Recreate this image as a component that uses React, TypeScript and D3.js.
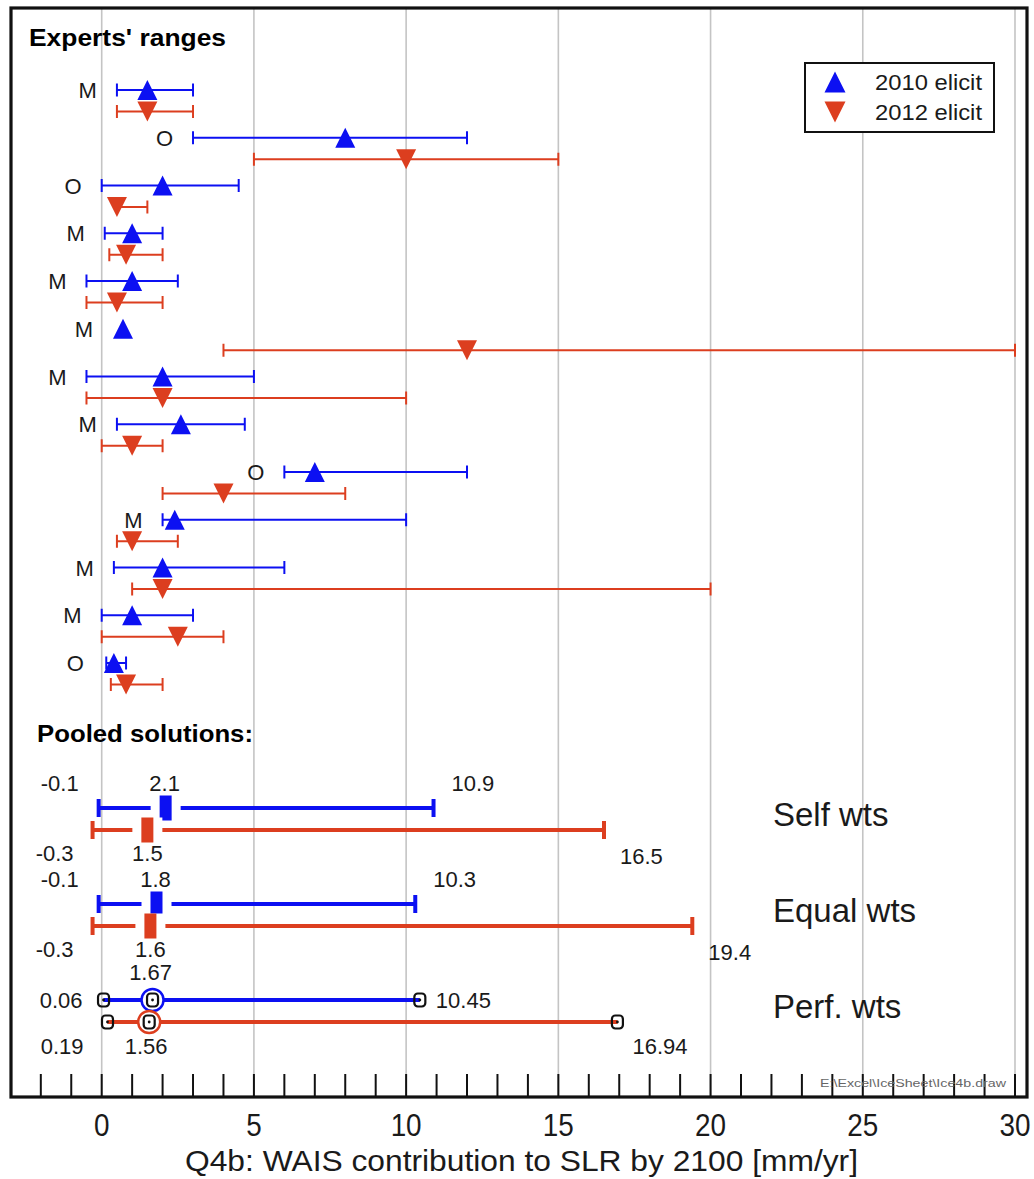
import React from "react";
import * as d3 from "d3";

// ---------------- DATA ----------------
const expertTypes = ["M", "O", "O", "M", "M", "M", "M", "M", "O", "M", "M", "M", "O"];
// 2010 elicitation: [low, median, high]
const elicit2010 = [
  [0.5, 1.5, 3], [3, 8, 12], [0, 2, 4.5], [0.1, 1, 2], [-0.5, 1, 2.5], [0.7, 0.7, 0.7], [-0.5, 2, 5],
  [0.5, 2.6, 4.7], [6, 7, 12], [2, 2.4, 10], [0.4, 2, 6], [0, 1, 3], [0.15, 0.4, 0.8],
];
// 2012 elicitation: [low, median, high]
const elicit2012 = [
  [0.5, 1.5, 3], [5, 10, 15], [0.5, 0.5, 1.5], [0.25, 0.8, 2], [-0.5, 0.5, 2], [4, 12, 30], [-0.5, 2, 10],
  [0, 1, 2], [2, 4, 8], [0.5, 1, 2.5], [1, 2, 20], [0, 2.5, 4], [0.3, 0.8, 2],
];
const poolNames = ["Self wts", "Equal wts", "Perf. wts"];
const pool2010 = [[-0.1, 2.1, 10.9], [-0.1, 1.8, 10.3], [0.06, 1.67, 10.45]];
const pool2012 = [[-0.3, 1.5, 16.5], [-0.3, 1.6, 19.4], [0.19, 1.56, 16.94]];
const poolLabels2010 = [["-0.1", "2.1", "10.9"], ["-0.1", "1.8", "10.3"], ["0.06", "1.67", "10.45"]];
const poolLabels2012 = [["-0.3", "1.5", "16.5"], ["-0.3", "1.6", "19.4"], ["0.19", "1.56", "16.94"]];
const gridTicks = [0, 5, 10, 15, 20, 25, 30];
const minorTicks = d3.range(-2, 31, 1);
const legendLabels = ["2010 elicit", "2012 elicit"];
const xTitle = "Q4b: WAIS contribution to SLR by 2100 [mm/yr]";

// ---------------- STYLE ----------------
const W = 1034, H = 1179;
const BLUE = "#0c10f2";
const RED = "#dc3e1f";
const FONT = "'Liberation Sans', Arial, Helvetica, sans-serif";
const NARROW = "'Liberation Sans Narrow', 'Arial Narrow', 'Liberation Sans', Arial, sans-serif";
const TXT = "#1a1a1a";

const frame = { x0: 11, y0: 8, x1: 1027, y1: 1097 };

export default function App() {
  const x = d3.scaleLinear().domain([0, 30]).range([101.7, 1015]);
  const yExp = d3.scalePoint<number>().domain(d3.range(expertTypes.length)).range([90, 663]);
  const yPool = d3.scalePoint<number>().domain(d3.range(poolNames.length)).range([808, 1000]);
  const redOff = 21.5;
  const poolRedOff = 22;

  const triUp = (cx: number, cy: number, s = 10) =>
    `M${cx},${cy - s}L${cx + s},${cy + s}L${cx - s},${cy + s}Z`;
  const triDown = (cx: number, cy: number, s = 10) =>
    `M${cx},${cy + s}L${cx + s},${cy - s}L${cx - s},${cy - s}Z`;

  const expertRange = (d: number[], cy: number, color: string, up: boolean, key: string) => {
    const [lo, med, hi] = d;
    return (
      <g key={key}>
        {lo < hi && (
          <>
            <line x1={x(lo)} x2={x(hi)} y1={cy} y2={cy} stroke={color} strokeWidth={2} />
            <line x1={x(lo)} x2={x(lo)} y1={cy - 6.5} y2={cy + 6.5} stroke={color} strokeWidth={2} />
            <line x1={x(hi)} x2={x(hi)} y1={cy - 6.5} y2={cy + 6.5} stroke={color} strokeWidth={2} />
          </>
        )}
        <path d={up ? triUp(x(med), cy) : triDown(x(med), cy)} fill={color} />
      </g>
    );
  };

  const poolRange = (d: number[], cy: number, color: string, perf: boolean, key: string) => {
    const [lo, med, hi] = d;
    const marker = (cx: number, k: string) => (
      <g key={k}>
        <rect x={cx - 5.5} y={cy - 6.5} width={11} height={13} rx={3.5} fill="none" stroke="#111" strokeWidth={2.2} />
        <circle cx={cx} cy={cy} r={1.4} fill="#111" />
      </g>
    );
    return (
      <g key={key}>
        <line x1={x(lo)} x2={x(hi)} y1={cy} y2={cy} stroke={color} strokeWidth={4} />
        {!perf && (
          <>
            <line x1={x(lo)} x2={x(lo)} y1={cy - 9} y2={cy + 9} stroke={color} strokeWidth={4} />
            <line x1={x(hi)} x2={x(hi)} y1={cy - 9} y2={cy + 9} stroke={color} strokeWidth={4} />
            <rect x={x(med) - 15} y={cy - 12.5} width={30} height={25} fill="#fff" />
            <rect x={x(med) - 6} y={cy - 12.5} width={12} height={25} fill={color} />
          </>
        )}
        {perf && (
          <>
            <circle cx={x(med)} cy={cy} r={11} fill="#fff" stroke={color} strokeWidth={2.5} />
            {marker(x(lo), "lo")}
            {marker(x(med), "med")}
            {marker(x(hi), "hi")}
          </>
        )}
      </g>
    );
  };

  return (
    <svg width={W} height={H} style={{ position: "absolute", left: 0, top: 0, display: "block", background: "#fff" }}>
      <rect x={0} y={0} width={W} height={H} fill="#fff" />
      {/* grid */}
      {gridTicks.map((t) => (
        <line key={"g" + t} x1={x(t)} x2={x(t)} y1={frame.y0} y2={frame.y1} stroke="#c4c4c4" strokeWidth={1.6} />
      ))}
      {/* minor bottom ticks */}
      {minorTicks.map((t) => (
        <line key={"t" + t} x1={x(t)} x2={x(t)} y1={frame.y1 - 23} y2={frame.y1} stroke="#111" strokeWidth={2} />
      ))}
      {/* frame */}
      <rect x={frame.x0} y={frame.y0} width={frame.x1 - frame.x0} height={frame.y1 - frame.y0}
        fill="none" stroke="#111" strokeWidth={3.2} />

      {/* headings */}
      <text x={29} y={46} fontFamily={FONT} fontWeight="bold" fontSize={24} textLength={197}
        lengthAdjust="spacingAndGlyphs" fill="#000">Experts' ranges</text>
      <text x={37} y={742} fontFamily={FONT} fontWeight="bold" fontSize={24} textLength={216}
        lengthAdjust="spacingAndGlyphs" fill="#000">Pooled solutions:</text>

      {/* experts */}
      {expertTypes.map((lab, i) => {
        const yb = yExp(i)!;
        const b = elicit2010[i];
        const anchor = Math.min(b[0] < b[2] ? x(b[0]) : x(b[1]) - 10, x(b[1]) - 10) - 20;
        return (
          <g key={"e" + i}>
            {expertRange(elicit2012[i], yb + redOff, RED, false, "r")}
            {expertRange(b, yb, BLUE, true, "b")}
            <text x={anchor} y={yb + 8} textAnchor="end" fontFamily={FONT} fontSize={22} fill={TXT}>{lab}</text>
          </g>
        );
      })}

      {/* pooled */}
      {poolNames.map((name, i) => {
        const yb = yPool(i)!;
        const yr = yb + poolRedOff;
        const perf = i === 2;
        const b = pool2010[i], r = pool2012[i];
        const lb = poolLabels2010[i], lr = poolLabels2012[i];
        const fs = 22;
        return (
          <g key={"p" + i}>
            {poolRange(b, yb, BLUE, perf, "b")}
            {poolRange(r, yr, RED, perf, "r")}
            {!perf ? (
              <g fontFamily={FONT} fontSize={fs} fill={TXT}>
                <text x={x(b[0]) - 20} y={yb - 17} textAnchor="end">{lb[0]}</text>
                <text x={x(b[1]) - 1} y={yb - 17} textAnchor="middle">{lb[1]}</text>
                <text x={x(b[2]) + 18} y={yb - 17}>{lb[2]}</text>
                <text x={x(r[0]) - 19} y={yr + 31} textAnchor="end">{lr[0]}</text>
                <text x={x(r[1])} y={yr + 31} textAnchor="middle">{lr[1]}</text>
                <text x={x(r[2]) + 16} y={yr + 34}>{lr[2]}</text>
              </g>
            ) : (
              <g fontFamily={FONT} fontSize={fs} fill={TXT}>
                <text x={x(b[0]) - 21} y={yb + 8} textAnchor="end">{lb[0]}</text>
                <text x={x(b[1]) - 2} y={yb - 20} textAnchor="middle">{lb[1]}</text>
                <text x={x(b[2]) + 16} y={yb + 8}>{lb[2]}</text>
                <text x={x(r[0]) - 24} y={yr + 32} textAnchor="end">{lr[0]}</text>
                <text x={x(r[1]) - 3} y={yr + 32} textAnchor="middle">{lr[1]}</text>
                <text x={x(r[2]) + 15} y={yr + 32}>{lr[2]}</text>
              </g>
            )}
            <text x={773} y={yb + 18} fontFamily={FONT} fontSize={33} fill={TXT}>{name}</text>
          </g>
        );
      })}

      {/* legend */}
      <g>
        <rect x={805} y={63} width={189} height={69} fill="#fff" stroke="#111" strokeWidth={2} />
        <path d={triUp(835, 82, 10.5)} fill={BLUE} />
        <path d={triDown(835, 112, 10.5)} fill={RED} />
        <text x={875} y={90} fontFamily={FONT} fontSize={22} textLength={107} lengthAdjust="spacingAndGlyphs" fill={TXT}>{legendLabels[0]}</text>
        <text x={875} y={120} fontFamily={FONT} fontSize={22} textLength={107} lengthAdjust="spacingAndGlyphs" fill={TXT}>{legendLabels[1]}</text>
      </g>

      {/* file note */}
      <text x={820} y={1087} fontFamily={FONT} fontSize={10} fill="#666" textLength={186} lengthAdjust="spacingAndGlyphs">E:\Excel\IceSheet\Ice4b.draw</text>

      {/* axis tick labels */}
      {gridTicks.map((t) => {
        const s = String(t);
        return (
          <text key={"l" + t} x={x(t)} y={1136} textAnchor="middle" fontFamily={NARROW} fontSize={31}
            textLength={s.length * 15.5} lengthAdjust="spacingAndGlyphs" fill={TXT}>{s}</text>
        );
      })}
      <text x={521.5} y={1171} textAnchor="middle" fontFamily={NARROW} fontSize={30} textLength={673}
        lengthAdjust="spacingAndGlyphs" fill={TXT}>{xTitle}</text>
    </svg>
  );
}
